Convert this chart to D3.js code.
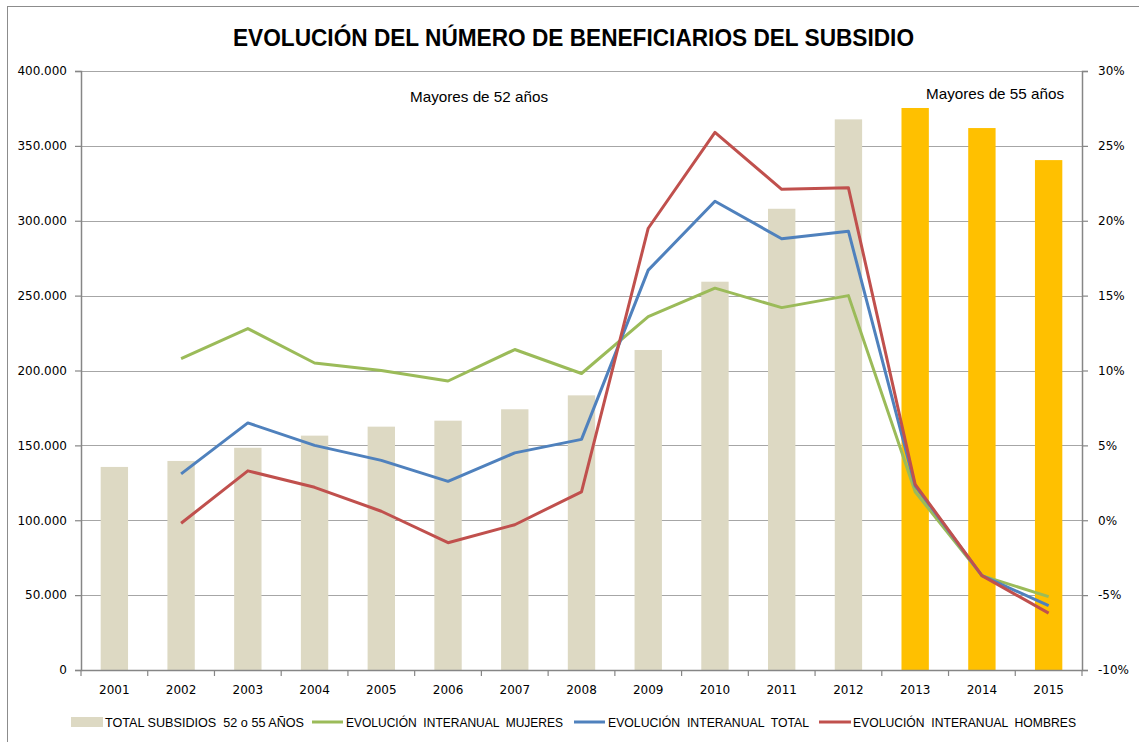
<!DOCTYPE html>
<html><head><meta charset="utf-8">
<script src="https://cdn.jsdelivr.net/npm/d3@7"></script>
<style>body{margin:0;background:#fff}svg{display:block}</style>
</head><body>
<svg id="c" width="1139" height="742"></svg>
<script>
const years = ["2001","2002","2003","2004","2005","2006","2007","2008","2009","2010","2011","2012","2013","2014","2015"];
const totalSubsidios = [135600,139600,148400,156500,162500,166500,174100,183400,213700,259300,308000,367700,375300,361900,340500];
const mayores55 = [false,false,false,false,false,false,false,false,false,false,false,false,true,true,true];
const mujeres = [null,10.8,12.8,10.5,10.0,9.3,11.4,9.8,13.6,15.5,14.2,15.0,1.9,-3.7,-5.1];
const total   = [null,3.1,6.5,5.0,4.0,2.6,4.5,5.4,16.7,21.3,18.8,19.3,2.3,-3.7,-5.7];
const hombres = [null,-0.2,3.3,2.2,0.6,-1.5,-0.3,1.9,19.5,25.9,22.1,22.2,2.4,-3.7,-6.2];
const leftTicks = [0,50000,100000,150000,200000,250000,300000,350000,400000];
const rightTicks = [-10,-5,0,5,10,15,20,25,30];
const legendLabels = ["TOTAL SUBSIDIOS  52 o 55 AÑOS","EVOLUCIÓN  INTERANUAL  MUJERES","EVOLUCIÓN  INTERANUAL  TOTAL","EVOLUCIÓN  INTERANUAL  HOMBRES"];
const titleText = "EVOLUCIÓN DEL NÚMERO DE BENEFICIARIOS DEL SUBSIDIO";

const svg = d3.select("#c");
const L = 81, R = 1082, T = 71, B = 670;
const x = d3.scaleBand().domain(years).range([L, R]).paddingInner(0.59).paddingOuter(0.295);
const yL = d3.scaleLinear().domain([0, 400000]).range([B, T]);
const yR = d3.scaleLinear().domain([-10, 30]).range([B, T]);
const fmt = d3.format(",.0f");
const fmtL = v => fmt(v).replace(/,/g, ".");

// border
svg.append("rect").attr("x", 7.5).attr("y", 6.5).attr("width", 1140).attr("height", 740)
  .attr("fill", "none").attr("stroke", "#8c8c8c").attr("stroke-width", 1);

// title
svg.append("text").attr("x", 573.5).attr("y", 46).attr("text-anchor", "middle")
  .attr("font-family", "Liberation Sans, Arial").attr("font-weight", "bold").attr("font-size", 24)
  .attr("textLength", 681).attr("lengthAdjust", "spacingAndGlyphs").attr("fill", "#000").text(titleText);

// grid
svg.append("g").selectAll("line").data(leftTicks.filter(d => d > 0)).join("line")
  .attr("x1", L).attr("x2", R).attr("y1", d => Math.round(yL(d)) + 0.5).attr("y2", d => Math.round(yL(d)) + 0.5)
  .attr("stroke", "#a6a6a6").attr("stroke-width", 1.2);

// bars
svg.append("g").selectAll("rect").data(years).join("rect")
  .attr("x", d => x(d)).attr("width", x.bandwidth())
  .attr("y", (d, i) => yL(totalSubsidios[i])).attr("height", (d, i) => B - yL(totalSubsidios[i]))
  .attr("fill", (d, i) => mayores55[i] ? "#FFC000" : "#DDD9C3");

// lines
const line = d3.line().defined(d => d.v !== null).x(d => x(d.y) + x.bandwidth() / 2).y(d => yR(d.v));
const series = [[mujeres, "#9BBB59"], [total, "#4F81BD"], [hombres, "#C0504D"]];
series.forEach(([arr, col]) => {
  svg.append("path").datum(years.map((y, i) => ({ y, v: arr[i] })))
    .attr("d", line).attr("fill", "none").attr("stroke", col).attr("stroke-width", 3)
    .attr("stroke-linejoin", "round");
});

// axes
const axisStyle = g => {
  g.selectAll("path.domain").attr("stroke", "#868686").attr("stroke-width", 1.5);
  g.selectAll(".tick line").attr("stroke", "#868686").attr("stroke-width", 1.2);
  g.selectAll("text").attr("font-family", "DejaVu Sans, Verdana").attr("font-size", 12).attr("fill", "#000");
};
svg.append("g").attr("transform", `translate(${L},0)`)
  .call(d3.axisLeft(yL).tickValues(leftTicks).tickFormat(fmtL).tickSizeOuter(0).tickSize(6).tickPadding(8))
  .call(axisStyle);
svg.append("g").attr("transform", `translate(${R},0)`)
  .call(d3.axisRight(yR).tickValues(rightTicks).tickFormat(d => d + "%").tickSizeOuter(0).tickSize(6).tickPadding(10))
  .call(axisStyle);
const xb = svg.append("g").attr("transform", `translate(0,${B})`)
  .call(d3.axisBottom(x).tickSize(0).tickPadding(15).tickSizeOuter(0))
  .call(axisStyle);
// tick marks between categories
const step = x.step();
svg.append("g").selectAll("line").data(d3.range(years.length + 1)).join("line")
  .attr("x1", i => L + i * step).attr("x2", i => L + i * step).attr("y1", B).attr("y2", B + 6)
  .attr("stroke", "#868686").attr("stroke-width", 1.2);

// annotations
svg.append("text").attr("x", 479).attr("y", 102).attr("text-anchor", "middle")
  .attr("font-family", "Liberation Sans, Arial").attr("font-size", 15)
  .attr("textLength", 138).attr("lengthAdjust", "spacingAndGlyphs").text("Mayores de 52 años");
svg.append("text").attr("x", 995).attr("y", 99).attr("text-anchor", "middle")
  .attr("font-family", "Liberation Sans, Arial").attr("font-size", 15)
  .attr("textLength", 138).attr("lengthAdjust", "spacingAndGlyphs").text("Mayores de 55 años");

// legend
const legY = 722;
const leg = svg.append("g");
const legItems = [
  { type: "rect", col: "#DDD9C3", sx: 71, ex: 103, tx: 105, tw: 199 },
  { type: "line", col: "#9BBB59", sx: 312, ex: 343, tx: 346, tw: 217 },
  { type: "line", col: "#4F81BD", sx: 574, ex: 605, tx: 608, tw: 201 },
  { type: "line", col: "#C0504D", sx: 819, ex: 851, tx: 853, tw: 223 }
];
legItems.forEach((it, i) => {
  if (it.type === "rect") {
    leg.append("rect").attr("x", it.sx).attr("y", legY - 5).attr("width", it.ex - it.sx).attr("height", 10).attr("fill", it.col);
  } else {
    leg.append("line").attr("x1", it.sx).attr("x2", it.ex).attr("y1", legY).attr("y2", legY)
      .attr("stroke", it.col).attr("stroke-width", 3);
  }
  leg.append("text").attr("x", it.tx).attr("y", legY + 4.5)
    .attr("font-family", "Liberation Sans, Arial").attr("font-size", 13)
    .attr("textLength", it.tw).attr("lengthAdjust", "spacingAndGlyphs")
    .attr("xml:space", "preserve").style("white-space", "pre").text(legendLabels[i]);
});
</script>
</body></html>
